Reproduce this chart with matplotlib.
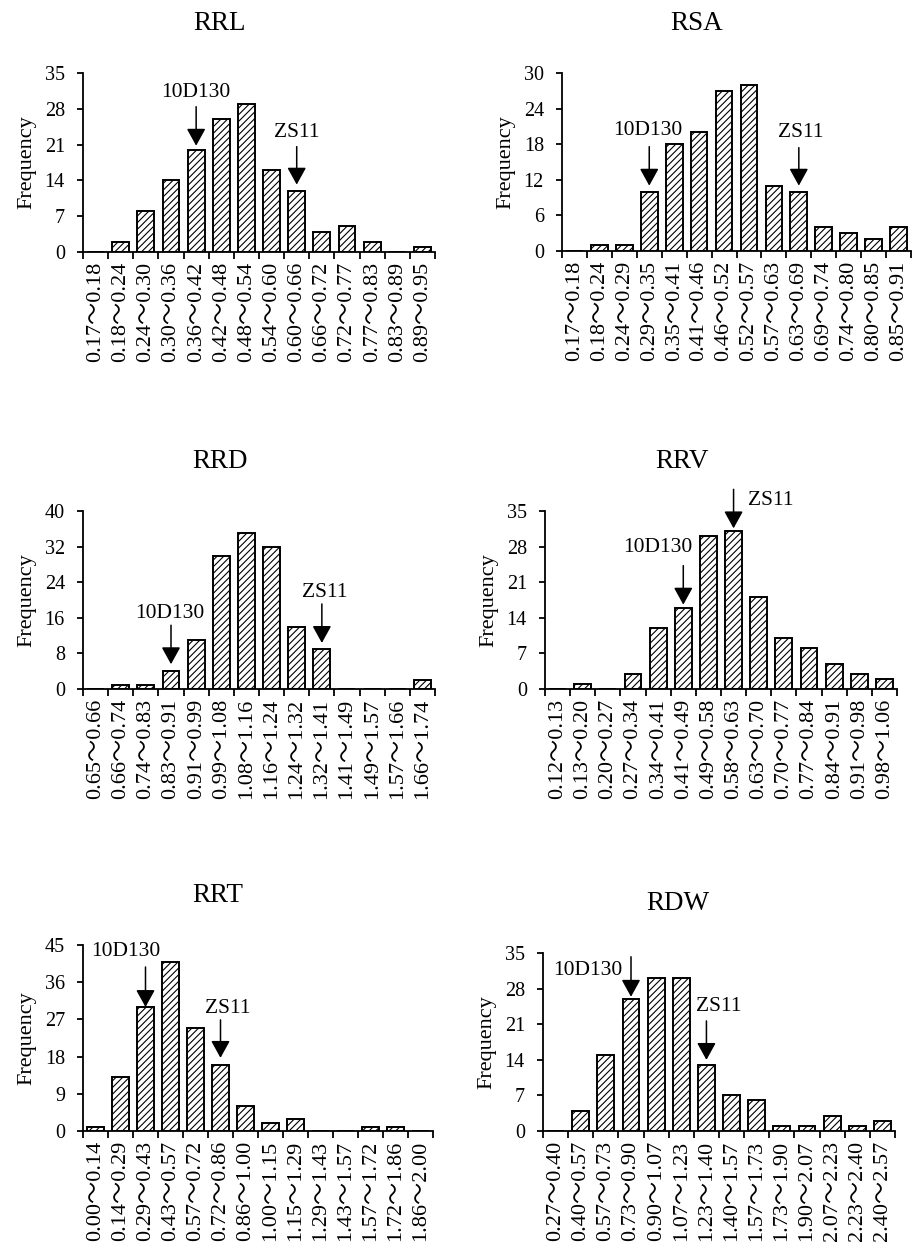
import matplotlib
matplotlib.use('Agg')
import matplotlib.pyplot as plt
import numpy as np

plt.rcParams['font.family'] = ['Liberation Serif', 'Noto Sans CJK SC']
plt.rcParams['hatch.linewidth'] = 0.8

# ---- data ----
rrl_bins = ['0.17～0.18', '0.18～0.24', '0.24～0.30', '0.30～0.36', '0.36～0.42', '0.42～0.48', '0.48～0.54',
            '0.54～0.60', '0.60～0.66', '0.66～0.72', '0.72～0.77', '0.77～0.83', '0.83～0.89', '0.89～0.95']
rrl_freq = [0, 2, 8, 14, 20, 26, 29, 16, 12, 4, 5, 2, 0, 1]

rsa_bins = ['0.17～0.18', '0.18～0.24', '0.24～0.29', '0.29～0.35', '0.35～0.41', '0.41～0.46', '0.46～0.52',
            '0.52～0.57', '0.57～0.63', '0.63～0.69', '0.69～0.74', '0.74～0.80', '0.80～0.85', '0.85～0.91']
rsa_freq = [0, 1, 1, 10, 18, 20, 27, 28, 11, 10, 4, 3, 2, 4]

rrd_bins = ['0.65～0.66', '0.66～0.74', '0.74～0.83', '0.83～0.91', '0.91～0.99', '0.99～1.08', '1.08～1.16',
            '1.16～1.24', '1.24～1.32', '1.32～1.41', '1.41～1.49', '1.49～1.57', '1.57～1.66', '1.66～1.74']
rrd_freq = [0, 1, 1, 4, 11, 30, 35, 32, 14, 9, 0, 0, 0, 2]

rrv_bins = ['0.12～0.13', '0.13～0.20', '0.20～0.27', '0.27～0.34', '0.34～0.41', '0.41～0.49', '0.49～0.58',
            '0.58～0.63', '0.63～0.70', '0.70～0.77', '0.77～0.84', '0.84～0.91', '0.91～0.98', '0.98～1.06']
rrv_freq = [0, 1, 0, 3, 12, 16, 30, 31, 18, 10, 8, 5, 3, 2]

rrt_bins = ['0.00～0.14', '0.14～0.29', '0.29～0.43', '0.43～0.57', '0.57～0.72', '0.72～0.86', '0.86～1.00',
            '1.00～1.15', '1.15～1.29', '1.29～1.43', '1.43～1.57', '1.57～1.72', '1.72～1.86', '1.86～2.00']
rrt_freq = [1, 13, 30, 41, 25, 16, 6, 2, 3, 0, 0, 1, 1, 0]

rdw_bins = ['0.27～0.40', '0.40～0.57', '0.57～0.73', '0.73～0.90', '0.90～1.07', '1.07～1.23', '1.23～1.40',
            '1.40～1.57', '1.57～1.73', '1.73～1.90', '1.90～2.07', '2.07～2.23', '2.23～2.40', '2.40～2.57']
rdw_freq = [0, 4, 15, 26, 30, 30, 13, 7, 6, 1, 1, 3, 1, 2]

# bar index of each parent line
rrl_marks = {'10D130': 4, 'ZS11': 8}
rsa_marks = {'10D130': 3, 'ZS11': 9}
rrd_marks = {'10D130': 3, 'ZS11': 9}
rrv_marks = {'10D130': 5, 'ZS11': 7}
rrt_marks = {'10D130': 2, 'ZS11': 5}
rdw_marks = {'10D130': 3, 'ZS11': 6}

fig = plt.figure(figsize=(9.21, 12.48), dpi=100)
W, H = 921, 1248


def px_axes(l, t, r, b):
    return fig.add_axes([l / W, 1 - b / H, (r - l) / W, (b - t) / H])


def panel(ax, title, tx, ty, bins, freq, ymax, step, marks, styles):
    x = np.arange(len(bins))
    ax.bar(x, freq, width=0.67, color='white', edgecolor='black', linewidth=1.4, hatch='/////')
    ax.set_xlim(-0.5, len(bins) - 0.5)
    ax.set_ylim(0, ymax)
    ax.set_yticks(np.arange(0, ymax + 1, step))
    ax.set_xticks(x)
    ax.set_xticklabels(bins, rotation=90, fontsize=16)
    ax.set_xticks(np.arange(-0.5, len(bins)), minor=True)
    ax.tick_params(axis='x', which='major', length=0, pad=7)
    ax.tick_params(axis='x', which='minor', length=5, width=1.3, direction='out')
    ax.tick_params(axis='y', length=4, width=1.3, direction='out', labelsize=14.5, pad=9)
    for s in ['top', 'right']:
        ax.spines[s].set_visible(False)
    for s in ['left', 'bottom']:
        ax.spines[s].set_linewidth(1.3)
    ax.set_ylabel('Frequency', fontsize=16, labelpad=6)
    fig.text(tx / W, 1 - ty / H, title, fontsize=19.5, ha='center', va='center')

    for name, i in marks.items():
        gap, tail, dx, base, ha = styles[name]
        v = freq[i]
        ax.annotate('', xy=(i, v), xytext=(0, tail), textcoords='offset pixels',
                    arrowprops=dict(arrowstyle='-|>,head_length=1.05,head_width=0.58',
                                    mutation_scale=10, lw=1.1, color='black',
                                    shrinkA=0, shrinkB=gap / 1.389))
        ax.annotate(name, xy=(i, v), xytext=(dx, base), textcoords='offset pixels',
                    ha=ha, va='baseline', fontsize=15.5)


# (tip gap, arrow tail, text dx, text baseline, alignment) in pixels above the bar top
panel(px_axes(83, 73, 435, 252), 'RRL', 220, 23, rrl_bins, rrl_freq, 35, 7, rrl_marks,
      {'10D130': (4, 43, 0, 53, 'center'), 'ZS11': (6, 44, 0, 54, 'center')})
panel(px_axes(562, 73, 911, 251), 'RSA', 697, 23, rsa_bins, rsa_freq, 30, 6, rsa_marks,
      {'10D130': (6, 45, -1, 57, 'center'), 'ZS11': (6, 44, 2, 55, 'center')})
panel(px_axes(83, 511, 435, 689), 'RRD', 220, 462, rrd_bins, rrd_freq, 40, 8, rrd_marks,
      {'10D130': (7, 46, -1, 53, 'center'), 'ZS11': (6, 45, 3, 52, 'center')})
panel(px_axes(545, 511, 897, 689), 'RRV', 682, 462, rrv_bins, rrv_freq, 35, 7, rrv_marks,
      {'10D130': (3, 42, 9, 56, 'right'), 'ZS11': (3, 42, 14, 26, 'left')})
panel(px_axes(83, 945, 433, 1131), 'RRT', 218, 896, rrt_bins, rrt_freq, 45, 9, rrt_marks,
      {'10D130': (0, 40, 15, 51, 'right'), 'ZS11': (7, 45, 7, 52, 'center')})
panel(px_axes(543, 953, 895, 1131), 'RDW', 678, 904, rdw_bins, rdw_freq, 35, 7, rdw_marks,
      {'10D130': (2, 42, -9, 24, 'right'), 'ZS11': (5, 44, 12, 54, 'center')})

fig.savefig('out.png', dpi=100, facecolor='white')
